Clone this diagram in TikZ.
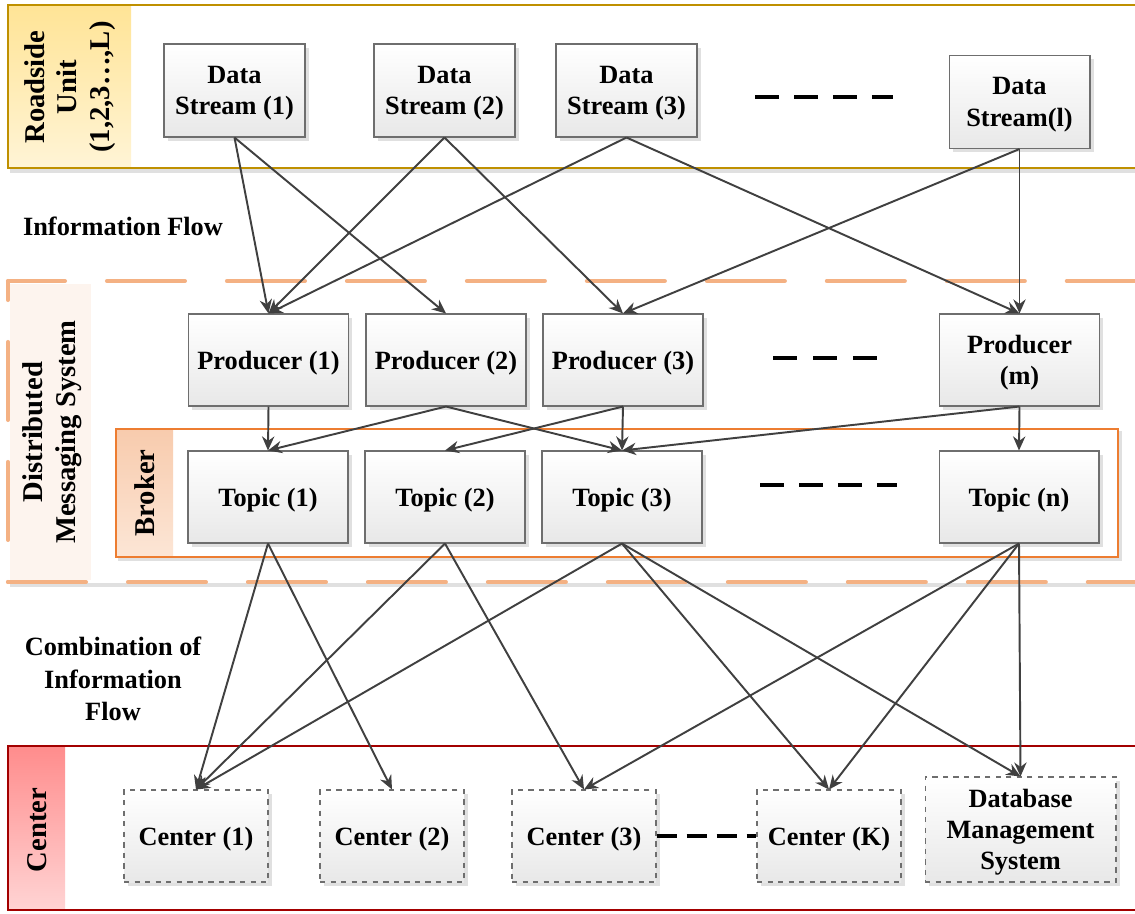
\documentclass[tikz,border=0pt]{standalone}
\usepackage{fontspec}
\setmainfont{Liberation Serif}
\usepackage{tikz}
\usetikzlibrary{arrows.meta,shadows}
\tikzset{
  box/.style = {align=center, inner sep=2pt, text depth=0pt, draw=my_gray, line width=0.6pt,
  top color=white, bottom color=my_light, font=\bfseries\fontsize{15}{17.8}\selectfont,
  drop shadow={shadow xshift=2pt, shadow yshift=-2pt, fill=black!12, opacity=1}},
  box_s/.style = {box, minimum width=2.82cm, minimum height=1.86cm},
  box_p/.style = {box, minimum width=3.2cm, minimum height=1.84cm},
  box_c/.style = {box, dashed, minimum width=2.88cm, minimum height=1.84cm},
  band_t/.style = {align=center, inner sep=0pt, rotate=90, font=\bfseries\fontsize{16.3}{18.6}\selectfont}
}
\definecolor{my_gray}{RGB}{110, 110, 110}
\definecolor{my_light}{RGB}{232, 232, 232}
\definecolor{my_dark}{RGB}{64, 64, 64}
\definecolor{my_gold}{RGB}{191, 144, 0}
\definecolor{my_orange}{RGB}{244, 177, 131}
\definecolor{my_brown}{RGB}{237, 125, 49}
\definecolor{my_red}{RGB}{192, 0, 0}
\definecolor{rsu_top}{RGB}{255, 228, 150}
\definecolor{rsu_bot}{RGB}{255, 244, 214}
\definecolor{dms_fill}{RGB}{253, 244, 238}
\definecolor{brk_top}{RGB}{248, 203, 173}
\definecolor{brk_bot}{RGB}{252, 230, 214}
\definecolor{ctr_top}{RGB}{255, 140, 140}
\definecolor{ctr_bot}{RGB}{255, 212, 212}

\begin{document}
\begin{tikzpicture}[x=0.02cm, y=-0.02cm,
        >={Stealth[length=8pt,width=7pt]},
        flow/.style={->, draw=my_dark, line width=1.1pt},
        dots/.style={draw=black, line width=2.8pt, dash pattern=on 0.48cm off 0.3cm},
        label/.style={align=center, font=\bfseries\fontsize{15}{16}\selectfont}]
    \useasboundingbox (0,0) rectangle (1135,913);
    \fill[white] (0,0) rectangle (1135,913);

    % roadside unit band
    \draw[black!12, line width=2pt] (10,171) -- (1135,171);
    \shade[top color=rsu_top, bottom color=rsu_bot] (8,5) rectangle (131,168);
    \draw[my_gold, line width=0.8pt] (1140,5) -- (8,5) -- (8,168) -- (1140,168);
    \node[band_t] (rsu) at (70,87) {Roadside\\Unit\\(1,2,3…,L)};

    % distributed messaging system
    \fill[dms_fill] (10,284) rectangle (91,580);
    \draw[black!12, line width=2pt] (10,585) -- (1135,585);
    \draw[my_orange, line width=2.3pt, line cap=round, dash pattern=on 1.56cm off 0.84cm, dash phase=0.42cm] (8,281) -- (1135,281);
    \draw[my_orange, line width=2.3pt, line cap=round, dash pattern=on 1.56cm off 0.84cm, dash phase=1.18cm] (8,281) -- (8,582);
    \draw[my_orange, line width=2.3pt, line cap=round, dash pattern=on 1.56cm off 0.84cm] (8,582) -- (1135,582);
    \node[band_t] (dms) at (52,432) {Distributed\\Messaging System};

    % broker
    \draw[black!12, line width=2pt] (118,559) -- (1120,559) -- (1120,431);
    \shade[top color=brk_top, bottom color=brk_bot] (116,429) rectangle (173,557);
    \draw[my_brown, line width=0.6pt] (116,429) rectangle (1118,557);
    \node[band_t] (brk) at (145,493) {Broker};

    % center band
    \shade[top color=ctr_top, bottom color=ctr_bot] (8,746) rectangle (65,910);
    \draw[my_red!85!black, line width=0.6pt] (1140,746) -- (8,746) -- (8,910) -- (1140,910);
    \node[band_t] (ctr) at (37,830) {Center};

    \node[label] (inf) at (123,226) {Information Flow};
    \node[label, font=\bfseries\fontsize{15}{18.5}\selectfont] (comb) at (113,679) {Combination of\\Information\\Flow};

    \node[box_s] (ds1) at (234.5,90.5) {Data\\Stream (1)};
    \node[box_s] (ds2) at (444.5,90.5) {Data\\Stream (2)};
    \node[box_s] (ds3) at (626.5,90.5) {Data\\Stream (3)};
    \node[box_s] (dsl) at (1019.5,102) {Data\\Stream(l)};

    \node[box_p] (p1) at (268.5,360) {Producer (1)};
    \node[box_p] (p2) at (446,360) {Producer (2)};
    \node[box_p] (p3) at (623,360) {Producer (3)};
    \node[box_p] (pm) at (1019.5,360) {Producer\\(m)};

    \node[box_p] (t1) at (268,497) {Topic (1)};
    \node[box_p] (t2) at (445,497) {Topic (2)};
    \node[box_p] (t3) at (622,497) {Topic (3)};
    \node[box_p] (tn) at (1019,497) {Topic (n)};

    \node[box_c] (c1) at (196,836) {Center (1)};
    \node[box_c] (c2) at (392,836) {Center (2)};
    \node[box_c] (c3) at (584,836) {Center (3)};
    \node[box_c] (ck) at (829,836) {Center (K)};
    \node[box_c, minimum width=3.82cm, minimum height=2.1cm] (db) at (1020.5,829.5) {Database\\Management\\System};

    \coordinate (ds_a) at (755,97);
    \coordinate (ds_b) at (893,97);
    \coordinate (p_a) at (773,358);
    \coordinate (p_b) at (877,358);
    \coordinate (t_a) at (760,485);
    \coordinate (t_b) at (897,485);
    \draw[dots] (ds_a) -- (ds_b);
    \draw[dots, dash pattern=on 0.48cm off 0.32cm] (p_a) -- (p_b);
    \draw[dots] (t_a) -- (t_b);
    \draw[dots, line width=2.6pt, dash pattern=on 0.4cm off 0.2cm] (c3.east) -- (ck.west);

    % information flow
    \draw[flow] (ds1.south) -- (p1.north);
    \draw[flow] (ds1.south) -- (p2.north);
    \draw[flow] (ds2.south) -- (p1.north);
    \draw[flow] (ds2.south) -- (p3.north);
    \draw[flow] (ds3.south) -- (p1.north);
    \draw[flow] (ds3.south) -- (pm.north);
    \draw[flow] (dsl.south) -- (p3.north);
    \draw[flow] (dsl.south) -- (pm.north);

    \draw[flow] (p1.south) -- (t1.north);
    \draw[flow] (p2.south) -- (t1.north);
    \draw[flow] (p2.south) -- (t3.north);
    \draw[flow] (p3.south) -- (t2.north);
    \draw[flow] (p3.south) -- (t3.north);
    \draw[flow] (pm.south) -- (t3.north);
    \draw[flow] (pm.south) -- (tn.north);

    % combination of information flow
    \draw[flow] (t1.south) -- (c1.north);
    \draw[flow] (t1.south) -- (c2.north);
    \draw[flow] (t2.south) -- (c1.north);
    \draw[flow] (t2.south) -- (c3.north);
    \draw[flow] (t3.south) -- (c1.north);
    \draw[flow] (t3.south) -- (ck.north);
    \draw[flow] (t3.south) -- (db.north);
    \draw[flow] (tn.south) -- (c3.north);
    \draw[flow] (tn.south) -- (ck.north);
    \draw[flow] (tn.south) -- (db.north);
\end{tikzpicture}
\end{document}
